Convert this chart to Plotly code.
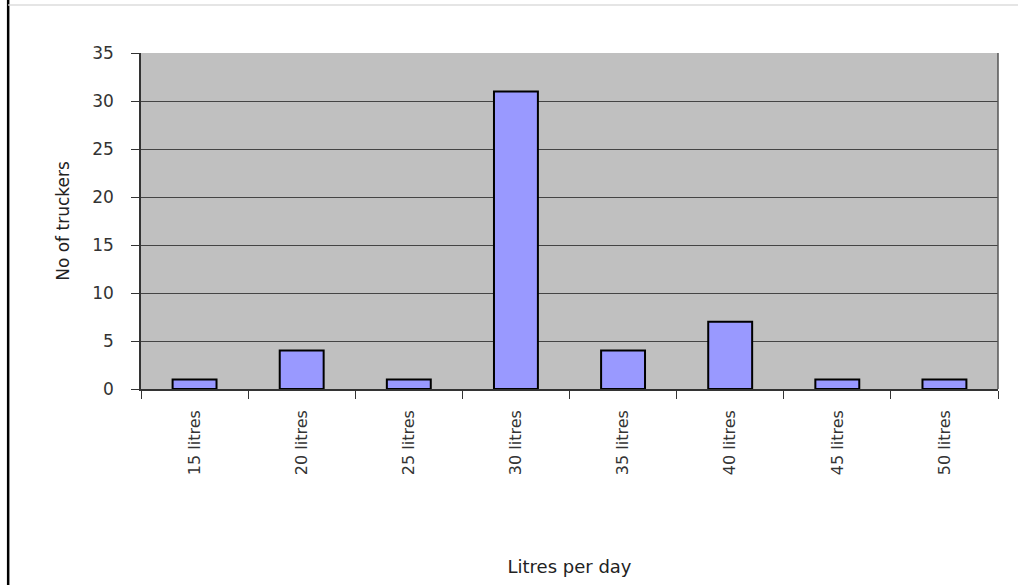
import plotly.graph_objects as go

# Daily fuel use by truckers
categories = ["15 litres", "20 litres", "25 litres", "30 litres",
              "35 litres", "40 litres", "45 litres", "50 litres"]
truckers = [1, 4, 1, 31, 4, 7, 1, 1]
y_ticks = [0, 5, 10, 15, 20, 25, 30, 35]

FONT = "DejaVu Sans"

fig = go.Figure(
    go.Bar(
        x=categories,
        y=truckers,
        marker=dict(color="#9999FF", line=dict(color="#000000", width=2)),
        width=0.41,
    )
)

fig.update_layout(
    width=1018,
    height=585,
    margin=dict(l=141, r=20, t=53, b=196),
    paper_bgcolor="#FFFFFF",
    plot_bgcolor="#C0C0C0",
    showlegend=False,
    font=dict(family=FONT, color="#333333"),
    shapes=[
        # frame around the page
        dict(type="line", xref="paper", yref="paper",
             x0=-0.155, x1=-0.155, y0=-0.59, y1=1.16,
             line=dict(color="#000000", width=2.5)),
        dict(type="line", xref="paper", yref="paper",
             x0=-0.155, x1=1.03, y0=1.143, y1=1.143,
             line=dict(color="#DDDDDD", width=1.5)),
        # right-hand border of the plot area
        dict(type="line", xref="paper", yref="paper", x0=1, x1=1, y0=0, y1=1,
             line=dict(color="#555555", width=1.5)),
    ],
)

fig.update_xaxes(
    type="category",
    showgrid=False,
    showline=True,
    linecolor="#333333",
    linewidth=1.5,
    ticks="outside",
    tickson="boundaries",
    ticklen=8,
    tickcolor="#333333",
    tickangle=-90,
    ticklabelstandoff=13,
    tickfont=dict(family=FONT, size=16, color="#333333"),
    title=dict(text="Litres per day", font=dict(family=FONT, size=18, color="#222222"),
               standoff=86),
)

fig.update_yaxes(
    range=[0, 35],
    tickvals=y_ticks,
    showgrid=True,
    gridcolor="#444444",
    gridwidth=1.3,
    showline=True,
    linecolor="#333333",
    linewidth=1.5,
    zeroline=False,
    ticks="outside",
    ticklen=8,
    tickcolor="#333333",
    ticklabelstandoff=14,
    tickfont=dict(family=FONT, size=17, color="#333333"),
    title=dict(text="No of truckers", font=dict(family=FONT, size=17, color="#222222"),
               standoff=18),
)

fig.write_html("out.html")
